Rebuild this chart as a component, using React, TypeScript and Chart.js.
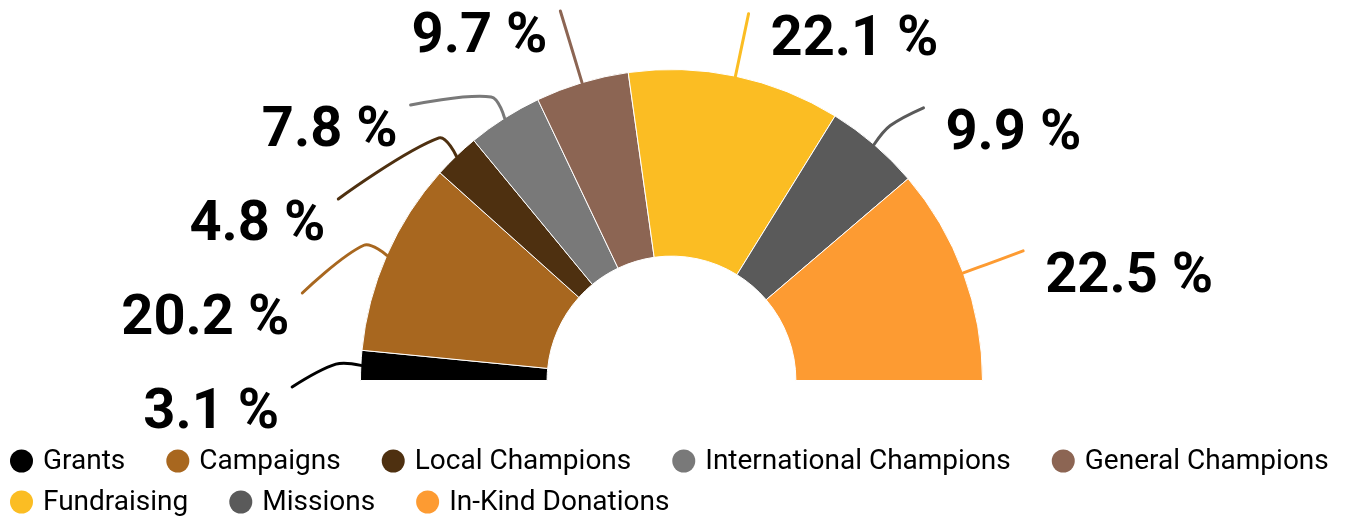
import React, { useEffect, useRef } from 'react';
import { Chart, registerables } from 'chart.js';

Chart.register(...registerables);

const categories = [
  'Grants',
  'Campaigns',
  'Local Champions',
  'International Champions',
  'General Champions',
  'Fundraising',
  'Missions',
  'In-Kind Donations',
];
const shares = [3.1, 20.2, 4.8, 7.8, 9.7, 22.1, 9.9, 22.5];
const sliceColors = [
  '#000000',
  '#A8671F',
  '#4E3010',
  '#797979',
  '#8C6553',
  '#FBBD23',
  '#5A5A5A',
  '#FD9B32',
];

const LABEL_FONT = 'bold 56px Roboto';
const LEGEND_FONT = '28px Roboto';

function splinePath(ctx: CanvasRenderingContext2D, p0: any, p1: any, p2: any, t: number) {
  const d01 = Math.hypot(p1.x - p0.x, p1.y - p0.y);
  const d12 = Math.hypot(p2.x - p1.x, p2.y - p1.y);
  const s = d01 + d12 || 1;
  const fa = (t * d01) / s;
  const fb = (t * d12) / s;
  const c1 = { x: p1.x - fa * (p2.x - p0.x), y: p1.y - fa * (p2.y - p0.y) };
  const c2 = { x: p1.x + fb * (p2.x - p0.x), y: p1.y + fb * (p2.y - p0.y) };
  ctx.moveTo(p0.x, p0.y);
  ctx.bezierCurveTo(p0.x, p0.y, c1.x, c1.y, p1.x, p1.y);
  ctx.bezierCurveTo(c2.x, c2.y, p2.x, p2.y, p2.x, p2.y);
}

const outLabelsPlugin = {
  id: 'outLabels',
  afterDatasetsDraw(chart: any) {
    const meta = chart.getDatasetMeta(0);
    const arcs = meta.data;
    if (!arcs || !arcs.length) return;
    const ctx: CanvasRenderingContext2D = chart.ctx;
    const cx = arcs[0].x;
    const cy = arcs[0].y;
    const R = arcs[0].outerRadius;
    const knee = R + 25;
    const gap = 94;
    const minY = 11;
    const radii = (left: boolean) =>
      left ? { nat: R * 1.242, push: R * 1.22 } : { nat: R * 1.205, push: R * 1.194 };
    const items = arcs.map((arc: any, i: number) => {
      const a = (arc.startAngle + arc.endAngle) / 2;
      const left = Math.cos(a) < 0;
      const rl = radii(left).nat;
      const ny = cy + rl * Math.sin(a);
      return {
        i,
        a,
        left,
        x: cx + rl * Math.cos(a),
        y: Math.max(minY, ny),
        pushed: false,
      };
    });
    [true, false].forEach((side) => {
      const list = items.filter((it: any) => it.left === side).sort((p: any, q: any) => p.y - q.y);
      for (let k = 1; k < list.length; k++) {
        if (list[k].y < list[k - 1].y + gap) {
          list[k].y = list[k - 1].y + gap;
          list[k].pushed = true;
        }
      }
    });
    ctx.save();
    items.forEach((it: any) => {
      let ex = it.x;
      if (it.pushed) {
        const rp = radii(it.left).push;
        const dy = it.y - cy;
        const dx = Math.sqrt(Math.max(0, rp * rp - dy * dy));
        ex = it.left ? cx - dx : cx + dx;
      }
      const p2 = { x: ex, y: it.y };
      const p0 = { x: cx + R * Math.cos(it.a), y: cy + R * Math.sin(it.a) };
      const p1 = { x: cx + knee * Math.cos(it.a), y: cy + knee * Math.sin(it.a) };
      ctx.beginPath();
      splinePath(ctx, p0, p1, p2, 0.35);
      ctx.strokeStyle = sliceColors[it.i];
      ctx.lineWidth = 3;
      ctx.lineCap = 'round';
      ctx.lineJoin = 'round';
      ctx.stroke();

      ctx.font = LABEL_FONT;
      ctx.fillStyle = '#000000';
      ctx.textBaseline = 'alphabetic';
      ctx.textAlign = it.left ? 'right' : 'left';
      const text = shares[it.i].toFixed(1) + ' %';
      ctx.fillText(text, it.left ? p2.x - 13 : p2.x + 22, p2.y + 41);
    });
    ctx.restore();
  },
};

const dotLegendPlugin = {
  id: 'dotLegend',
  afterDraw(chart: any) {
    const ctx: CanvasRenderingContext2D = chart.ctx;
    const area = chart.chartArea;
    ctx.save();
    ctx.font = LEGEND_FONT;
    ctx.textBaseline = 'middle';
    ctx.textAlign = 'left';
    const r = 11.5;
    const textOff = 33;
    const itemGap = 41;
    const rowH = 41;
    let x = 10;
    let y = area.bottom + 80;
    categories.forEach((label, i) => {
      const w = textOff + ctx.measureText(label).width;
      if (x > 10 && x + w > chart.width - 4) {
        x = 10;
        y += rowH;
      }
      ctx.fillStyle = sliceColors[i];
      ctx.beginPath();
      ctx.arc(x + r, y, r, 0, Math.PI * 2);
      ctx.fill();
      ctx.fillStyle = '#000000';
      ctx.fillText(label, x + textOff, y + 1);
      x += w + itemGap;
    });
    ctx.restore();
  },
};

export default function App() {
  const canvasRef = useRef<HTMLCanvasElement | null>(null);

  useEffect(() => {
    document.body.style.margin = '0';
    const canvas = canvasRef.current;
    if (!canvas) return;
    const chart = new Chart(canvas, {
      type: 'doughnut',
      data: {
        labels: categories,
        datasets: [
          {
            data: shares,
            backgroundColor: sliceColors,
            borderColor: '#ffffff',
            borderWidth: 1,
            hoverOffset: 0,
          },
        ],
      },
      options: {
        responsive: false,
        animation: false,
        rotation: -90,
        circumference: 180,
        cutout: '40%',
        layout: { padding: { top: 69, bottom: 137, left: 0, right: 2 } },
        plugins: {
          legend: { display: false },
          tooltip: { enabled: false },
        },
      },
      plugins: [outLabelsPlugin, dotLegendPlugin],
    });
    if ((document as any).fonts && (document as any).fonts.load) {
      Promise.all([
        (document as any).fonts.load(LABEL_FONT),
        (document as any).fonts.load(LEGEND_FONT),
      ]).then(() => chart.update()).catch(() => {});
    }
    return () => chart.destroy();
  }, []);

  return (
    <div style={{ width: 1345, height: 518, background: '#ffffff' }}>
      <canvas ref={canvasRef} width={1345} height={518} style={{ display: 'block' }} />
    </div>
  );
}
